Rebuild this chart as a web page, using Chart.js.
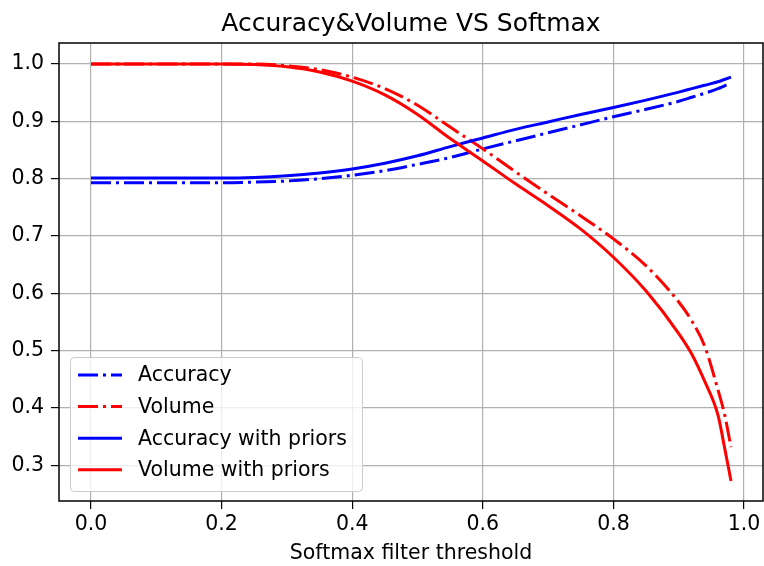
<!DOCTYPE html>
<html>
<head>
<meta charset="utf-8">
<title>Accuracy&amp;Volume VS Softmax</title>
<script src="https://cdn.jsdelivr.net/npm/chart.js@4"></script>
<style>
  html, body { margin: 0; padding: 0; background: #fff; }
  canvas { display: block; }
</style>
</head>
<body>
<canvas id="myChart" width="764" height="566"></canvas>
<script>
// softmax threshold values and the four curves
const thresholds = [0, 0.05, 0.1, 0.15, 0.2, 0.25, 0.3, 0.35, 0.4, 0.45, 0.5, 0.55, 0.6,
  0.65, 0.7, 0.75, 0.8, 0.85, 0.9, 0.92, 0.94, 0.96, 0.97, 0.98];
const accuracy = [0.793, 0.793, 0.793, 0.793, 0.793, 0.794, 0.796, 0.800, 0.806, 0.814, 0.825,
  0.837, 0.852, 0.866, 0.880, 0.894, 0.908, 0.921, 0.935, 0.942, 0.949, 0.957, 0.962, 0.967];
const volume = [1, 1, 1, 1, 1, 1, 0.997, 0.990, 0.977, 0.957, 0.928, 0.890, 0.852, 0.812,
  0.773, 0.735, 0.695, 0.648, 0.585, 0.552, 0.507, 0.432, 0.390, 0.332];
const accuracyPriors = [0.801, 0.801, 0.801, 0.801, 0.801, 0.802, 0.805, 0.810, 0.817, 0.827,
  0.840, 0.856, 0.871, 0.886, 0.899, 0.912, 0.924, 0.937, 0.951, 0.957, 0.963, 0.969, 0.973, 0.977];
const volumePriors = [1, 1, 1, 1, 1, 0.999, 0.995, 0.986, 0.970, 0.946, 0.912, 0.870, 0.831,
  0.791, 0.753, 0.712, 0.663, 0.604, 0.530, 0.494, 0.446, 0.388, 0.332, 0.273];

const seriesNames = ["Accuracy", "Volume", "Accuracy with priors", "Volume with priors"];
const xTicks = [0, 0.2, 0.4, 0.6, 0.8, 1.0];
const yTicks = [0.3, 0.4, 0.5, 0.6, 0.7, 0.8, 0.9, 1.0];

const FONT = "'DejaVu Sans', sans-serif";
const dashDot = [20, 5, 3, 5];

const pts = (ys) => thresholds.map((x, i) => ({ x: x, y: ys[i] }));

const line = (label, ys, color, dash, order) => ({
  label: label,
  data: pts(ys),
  borderColor: color,
  backgroundColor: color,
  borderWidth: 3,
  borderDash: dash,
  borderCapStyle: "butt",
  pointRadius: 0,
  cubicInterpolationMode: "monotone",
  fill: false,
  order: order,
});

// frame, title and legend box drawn on top of the plot
const decor = {
  id: "decor",
  afterDatasetsDraw(chart) {
    const { ctx, chartArea: a } = chart;
    ctx.save();

    // axes frame
    ctx.strokeStyle = "#000";
    ctx.lineWidth = 1.5;
    ctx.strokeRect(a.left, a.top, a.right - a.left, a.bottom - a.top);

    // legend, lower left
    const bx = a.left + 11, bw = 292, bh = 134;
    const by = a.bottom - 10 - bh;
    ctx.beginPath();
    ctx.roundRect(bx + 0.5, by + 0.5, bw, bh, 4);
    ctx.fillStyle = "rgba(255,255,255,0.8)";
    ctx.fill();
    ctx.strokeStyle = "#cccccc";
    ctx.lineWidth = 1;
    ctx.stroke();

    ctx.font = "20.5px " + FONT;
    ctx.textBaseline = "middle";
    ctx.textAlign = "left";
    chart.data.datasets.forEach((ds, i) => {
      const y = by + 18 + i * 31.6;
      ctx.beginPath();
      ctx.setLineDash(ds.borderDash || []);
      ctx.lineCap = "butt";
      ctx.strokeStyle = ds.borderColor;
      ctx.lineWidth = 3;
      ctx.moveTo(bx + 8, y);
      ctx.lineTo(bx + 52, y);
      ctx.stroke();
      ctx.setLineDash([]);
      ctx.fillStyle = "#000";
      ctx.fillText(ds.label, bx + 68, y + 1);
    });

    // title centred over the axes
    ctx.font = "25px " + FONT;
    ctx.textAlign = "center";
    ctx.textBaseline = "alphabetic";
    ctx.fillStyle = "#000";
    ctx.fillText("Accuracy&Volume VS Softmax", (a.left + a.right) / 2, 31);
    ctx.restore();
  },
};

const ctx = document.getElementById("myChart").getContext("2d");
window.grafica = new Chart(ctx, {
  type: "line",
  data: {
    datasets: [
      line(seriesNames[0], accuracy, "#0000ff", dashDot, 4),
      line(seriesNames[1], volume, "#ff0000", dashDot, 3),
      line(seriesNames[2], accuracyPriors, "#0000ff", [], 2),
      line(seriesNames[3], volumePriors, "#ff0000", [], 1),
    ],
  },
  options: {
    responsive: false,
    animation: false,
    devicePixelRatio: 1,
    layout: { padding: { left: 0, right: 1, top: 43, bottom: 0 } },
    plugins: {
      legend: { display: false },
      title: { display: false },
      tooltip: { enabled: false },
    },
    scales: {
      x: {
        type: "linear",
        min: -0.049,
        max: 1.029,
        afterBuildTicks: (s) => { s.ticks = xTicks.map((v) => ({ value: v })); },
        afterFit: (s) => { s.height = 65; },
        border: { display: false },
        grid: { color: "#b0b0b0", lineWidth: 1.2, tickColor: "#000", tickLength: 8, tickWidth: 1.2 },
        ticks: {
          color: "#000",
          padding: 3,
          maxRotation: 0,
          font: { family: FONT, size: 20.5 },
          callback: (v) => Number(v).toFixed(1),
        },
        title: {
          display: true,
          text: "Softmax filter threshold",
          color: "#000",
          padding: { top: 0, bottom: 0 },
          font: { family: FONT, size: 20.5, lineHeight: 1.2 },
        },
      },
      y: {
        type: "linear",
        min: 0.238,
        max: 1.0366,
        afterBuildTicks: (s) => { s.ticks = yTicks.map((v) => ({ value: v })); },
        afterFit: (s) => { s.width = 59; },
        border: { display: false },
        grid: { color: "#b0b0b0", lineWidth: 1.2, tickColor: "#000", tickLength: 8, tickWidth: 1.2 },
        ticks: {
          color: "#000",
          padding: 7,
          font: { family: FONT, size: 20.5 },
          callback: (v) => Number(v).toFixed(1),
        },
      },
    },
  },
  plugins: [decor],
});
</script>
</body>
</html>
